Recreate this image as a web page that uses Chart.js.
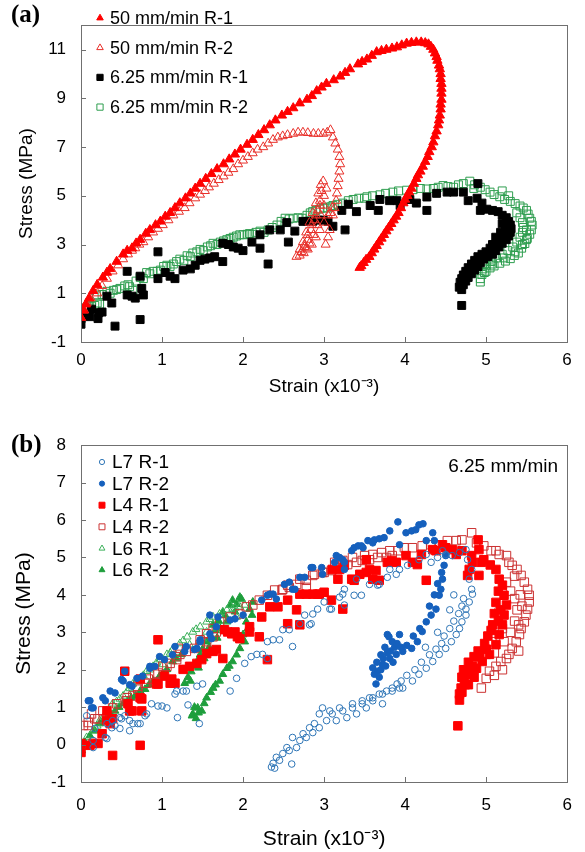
<!DOCTYPE html>
<html>
<head>
<meta charset="utf-8">
<script src="https://cdn.jsdelivr.net/npm/chart.js@4.4.1/dist/chart.umd.min.js"></script>
<style>
  html, body { margin: 0; padding: 0; background: #fff; }
  .panel { position: absolute; left: 0; width: 585px; }
  #wrapA { top: 0; height: 420px; }
  #wrapB { top: 420px; height: 432px; }
</style>
</head>
<body>
<div class="panel" id="wrapA"><canvas id="chartA"></canvas></div>
<div class="panel" id="wrapB"><canvas id="chartB"></canvas></div>
<script>
// ---- tick labels ----
const xTicks = [0, 1, 2, 3, 4, 5, 6];
const aYTicks = [-1, 1, 3, 5, 7, 9, 11];
const bYTicks = [-1, 0, 1, 2, 3, 4, 5, 6, 7, 8];

// ---- panel (a): strain (x10^-3), stress (MPa) ----
const a50R1 = [
  [0, 0], [0.03, 0.3], [0.06, 0.55], [0.1, 0.8], [0.15, 1.1], [0.2, 1.35], [0.27, 1.65], [0.32, 1.85],
  [0.36, 2.0], [0.44, 2.3], [0.52, 2.6], [0.57, 2.75], [0.63, 2.85], [0.68, 3.05], [0.73, 3.2], [0.8, 3.45],
  [0.85, 3.6], [0.92, 3.8], [0.98, 3.95], [1.04, 4.15], [1.1, 4.3], [1.16, 4.5], [1.22, 4.7], [1.29, 4.9],
  [1.35, 5.1], [1.41, 5.3], [1.47, 5.5], [1.54, 5.7], [1.61, 5.9], [1.68, 6.1], [1.76, 6.3], [1.83, 6.5],
  [1.9, 6.7], [1.97, 6.9], [2.05, 7.1], [2.12, 7.3], [2.19, 7.5], [2.26, 7.7], [2.33, 7.9], [2.4, 8.1],
  [2.48, 8.3], [2.55, 8.45], [2.62, 8.6], [2.7, 8.8], [2.79, 8.95], [2.85, 9.1], [2.91, 9.3], [2.97, 9.45],
  [3.03, 9.6], [3.12, 9.75], [3.2, 9.9], [3.26, 10.05], [3.32, 10.2], [3.42, 10.4], [3.47, 10.5], [3.53, 10.6],
  [3.59, 10.75], [3.65, 10.9], [3.71, 10.95], [3.77, 11.0], [3.84, 11.05], [3.9, 11.1], [3.96, 11.18],
  [4.02, 11.25], [4.08, 11.28], [4.14, 11.3], [4.2, 11.3], [4.25, 11.27],
  [4.29, 11.22], [4.32, 11.12], [4.35, 11.0], [4.37, 10.85], [4.39, 10.7], [4.4, 10.55], [4.42, 10.35],
  [4.43, 10.2], [4.44, 10.0], [4.44, 9.8], [4.45, 9.6], [4.45, 9.4], [4.45, 9.2], [4.45, 8.95], [4.44, 8.75],
  [4.44, 8.55], [4.43, 8.3], [4.42, 8.1], [4.41, 7.9], [4.39, 7.65], [4.37, 7.45], [4.35, 7.2], [4.33, 7.0],
  [4.3, 6.8], [4.28, 6.6], [4.25, 6.4], [4.22, 6.2], [4.19, 6.0], [4.16, 5.85], [4.14, 5.7], [4.11, 5.5],
  [4.08, 5.3], [4.05, 5.15], [4.03, 5.0], [4.0, 4.85], [3.98, 4.7], [3.95, 4.5], [3.92, 4.3], [3.89, 4.15],
  [3.86, 4.0], [3.83, 3.85], [3.8, 3.7], [3.77, 3.55], [3.74, 3.4], [3.71, 3.25], [3.68, 3.1], [3.65, 2.95],
  [3.62, 2.8], [3.59, 2.65], [3.56, 2.5], [3.52, 2.38], [3.49, 2.25], [3.46, 2.12], [3.44, 2.05]
];
const a50R2 = [
  [0, 0], [0.04, 0.3], [0.07, 0.6], [0.12, 0.8], [0.2, 1.0], [0.26, 1.3], [0.32, 1.6], [0.39, 1.9],
  [0.46, 2.15], [0.52, 2.4], [0.58, 2.6], [0.63, 2.75], [0.67, 2.85], [0.72, 3.0], [0.77, 3.1], [0.83, 3.3],
  [0.89, 3.5], [0.95, 3.65], [1.01, 3.8], [1.08, 4.0], [1.14, 4.2], [1.21, 4.35], [1.28, 4.5], [1.34, 4.7],
  [1.41, 4.9], [1.47, 5.05], [1.53, 5.2], [1.58, 5.35], [1.64, 5.5], [1.7, 5.65], [1.76, 5.8], [1.82, 5.95],
  [1.88, 6.1], [1.94, 6.3], [2.0, 6.45], [2.06, 6.6], [2.12, 6.75], [2.18, 6.9], [2.25, 7.0], [2.31, 7.15],
  [2.37, 7.3], [2.43, 7.4], [2.49, 7.45], [2.55, 7.5], [2.62, 7.55], [2.68, 7.6], [2.74, 7.6], [2.8, 7.58],
  [2.87, 7.55], [2.93, 7.55], [2.99, 7.55], [3.04, 7.6], [3.08, 7.7], [3.11, 7.4], [3.14, 7.15], [3.17, 6.9],
  [3.19, 6.6], [3.2, 6.3], [3.19, 6.0], [3.18, 5.7], [3.17, 5.4], [3.16, 5.1], [3.15, 4.8], [3.13, 4.5],
  [3.1, 4.5], [3.11, 4.2], [3.08, 4.3], [3.05, 4.2], [3.0, 3.9], [2.95, 3.6], [2.9, 3.3], [2.85, 3.0],
  [2.8, 2.8], [2.75, 2.65], [2.7, 2.55], [2.66, 2.5], [2.7, 2.8], [2.74, 3.1], [2.78, 3.5], [2.82, 3.9],
  [2.86, 4.3], [2.9, 4.7], [2.93, 5.1], [2.96, 5.45], [2.99, 5.6], [2.97, 5.2], [2.95, 4.8], [2.92, 4.4],
  [2.88, 4.0], [2.84, 3.6], [2.8, 3.2], [2.76, 2.9], [2.72, 2.7], [2.76, 3.0], [2.8, 3.4], [2.85, 3.8],
  [2.9, 4.2], [2.95, 4.6], [3.0, 5.0], [3.03, 5.3], [3.0, 4.6], [2.96, 4.2], [2.92, 3.8], [2.87, 3.4],
  [2.82, 3.05], [2.78, 2.85], [3.07, 3.6], [3.05, 3.3], [3.02, 3.0]
];
const a625R1 = [
  [0, -0.27], [0, -0.04], [0.05, 0.1], [0.11, 0.04], [0.13, 0.35], [0.21, -0.04], [0.22, 0.2], [0.26, 0.23],
  [0.32, 0.88], [0.38, 0.6], [0.42, -0.35], [0.57, 1.9], [0.57, 0.93], [0.63, 0.88], [0.67, 0.8], [0.73, 1.7],
  [0.75, 1.2], [0.77, 0.93], [0.73, -0.08], [0.95, 2.7], [0.95, 1.6], [1.04, 1.85], [1.1, 1.7], [1.16, 1.6],
  [1.26, 1.95], [1.35, 2.0], [1.41, 2.15], [1.47, 2.35], [1.53, 2.4], [1.59, 2.45], [1.65, 2.5], [1.75, 2.3],
  [1.75, 3.05], [1.82, 3.0], [1.88, 2.9], [1.94, 2.85], [2.0, 2.75], [2.11, 3.1], [2.21, 2.85], [2.21, 3.4],
  [2.31, 2.2], [2.33, 3.6], [2.46, 3.6], [2.54, 3.9], [2.56, 3.1], [2.64, 3.55], [2.74, 3.95], [2.8, 3.95],
  [2.86, 3.95], [2.93, 4.0], [2.99, 4.0], [3.05, 3.95], [3.11, 3.75], [3.26, 3.6], [3.22, 4.4], [3.3, 4.65],
  [3.4, 4.35], [3.57, 4.6], [3.67, 4.4], [3.69, 4.85], [3.81, 4.8], [3.9, 4.8], [3.94, 4.6], [4.06, 4.85],
  [4.14, 4.7], [4.27, 4.4], [4.27, 4.95], [4.39, 5.1], [4.52, 5.15], [4.6, 5.15], [4.72, 5.15], [4.78, 4.8],
  [4.9, 5.5], [4.89, 4.9], [4.95, 4.7], [4.93, 4.4], [5.01, 4.45], [5.08, 4.4], [5.15, 4.35], [5.2, 4.2],
  [5.25, 4.1], [5.28, 3.95], [5.3, 3.8], [5.2, 3.85], [5.31, 3.65], [5.24, 3.6], [5.3, 3.5], [5.18, 3.5],
  [5.28, 3.35], [5.22, 3.3], [5.12, 3.3], [5.25, 3.2], [5.15, 3.15], [5.2, 3.05], [5.08, 3.0], [5.16, 2.9],
  [5.05, 2.85], [5.12, 2.75], [5.0, 2.7], [5.08, 2.6], [4.95, 2.6], [5.02, 2.5], [4.9, 2.5], [4.97, 2.4],
  [4.86, 2.35], [4.93, 2.25], [4.82, 2.2], [4.9, 2.1], [4.78, 2.05], [4.86, 1.95], [4.75, 1.9], [4.82, 1.8],
  [4.72, 1.75], [4.78, 1.65], [4.7, 1.6], [4.75, 1.5], [4.68, 1.45], [4.72, 1.35], [4.67, 1.25], [4.7, 1.15],
  [4.7, 0.5]
];
const a625R2 = [
  [0, -0.04], [0.02, 0.15], [0.03, 0.3], [0.06, 0.4], [0.09, 0.5], [0.13, 0.45], [0.17, 0.5], [0.2, 0.6],
  [0.23, 0.55], [0.19, 0.93], [0.26, 0.95], [0.32, 1.08], [0.36, 1.0], [0.4, 1.12], [0.44, 1.15], [0.48, 1.2],
  [0.54, 1.3], [0.58, 1.35], [0.6, 1.27], [0.64, 1.12], [0.68, 1.5], [0.73, 1.65], [0.77, 1.6], [0.81, 1.85],
  [0.85, 1.8], [0.89, 1.9], [0.94, 1.9], [0.98, 1.95], [1.02, 2.1], [1.06, 2.15], [1.1, 2.1], [1.14, 2.2],
  [1.18, 2.3], [1.22, 2.4], [1.27, 2.35], [1.31, 2.54], [1.35, 2.5], [1.38, 2.65], [1.43, 2.7], [1.47, 2.8],
  [1.51, 2.75], [1.56, 2.9], [1.6, 2.95], [1.63, 3.05], [1.68, 3.0], [1.72, 3.1], [1.76, 3.15], [1.8, 3.2],
  [1.84, 3.25], [1.88, 3.3], [1.92, 3.35], [1.96, 3.4], [2.0, 3.4], [2.05, 3.42], [2.08, 3.45], [2.12, 3.42],
  [2.16, 3.5], [2.21, 3.55], [2.26, 3.5], [2.31, 3.6], [2.36, 3.7], [2.42, 3.8], [2.47, 3.95], [2.52, 4.08],
  [2.57, 4.05], [2.62, 4.08], [2.68, 4.1], [2.73, 4.08], [2.79, 4.2], [2.83, 4.3], [2.86, 4.35], [2.9, 4.4],
  [2.95, 4.46], [3.0, 4.5], [3.04, 4.5], [3.08, 4.55], [3.11, 4.6], [3.17, 4.65], [3.23, 4.7], [3.3, 4.8],
  [3.36, 4.85], [3.43, 4.9], [3.5, 4.9], [3.53, 4.96], [3.6, 5.0], [3.69, 5.04], [3.76, 5.1], [3.85, 5.15],
  [3.92, 5.2], [4.02, 5.23], [4.1, 5.25], [4.19, 5.3], [4.27, 5.28], [4.35, 5.3], [4.41, 5.35], [4.47, 5.42],
  [4.53, 5.38], [4.6, 5.35], [4.66, 5.45], [4.72, 5.5], [4.8, 5.6], [4.86, 5.45], [4.93, 5.35], [4.99, 5.25],
  [5.05, 5.15], [5.1, 5.05], [5.17, 4.96], [5.23, 4.85], [5.3, 4.77], [5.36, 4.68], [5.42, 4.58], [5.46, 4.5],
  [5.5, 4.4], [5.52, 4.25], [5.54, 4.08], [5.56, 3.95], [5.57, 3.8], [5.56, 3.6], [5.54, 3.42], [5.51, 3.25],
  [5.48, 3.04], [5.44, 2.85], [5.4, 2.65], [5.35, 2.55], [5.3, 2.42], [5.24, 2.32], [5.17, 2.23], [5.1, 2.12],
  [5.05, 2.04], [5.0, 1.9], [4.95, 1.77], [4.93, 1.6], [4.93, 1.46],
  [5.38, 4.3], [5.42, 4.1], [5.45, 3.9], [5.46, 3.7], [5.45, 3.5], [5.42, 3.3], [5.38, 3.1], [5.33, 2.9],
  [5.27, 2.75], [5.2, 2.6], [5.13, 2.45], [5.06, 2.3], [5.0, 2.15], [4.96, 2.0], [5.5, 3.6], [5.5, 3.2],
  [5.45, 3.0], [5.36, 2.7], [5.22, 2.45], [5.08, 2.2], [4.98, 1.85], [5.2, 5.2], [4.85, 5.3], [5.28, 5.0]
];

// ---- panel (b) ----
const bL7R1 = [
  [0.15, -0.08], [0.15, 0.11], [0.07, 0.77], [0.17, 0.43], [0.3, 0.19], [0.32, 0.16], [0.32, 0.56], [0.38, 0.45],
  [0.39, 0.64], [0.42, 0.51], [0.48, 0.72], [0.48, 0.43], [0.5, 0.69], [0.54, 0.77], [0.6, 0.64], [0.6, 0.37],
  [0.64, 0.56], [0.7, 0.56], [0.73, 0.56], [0.79, 0.77], [0.81, 0.82], [0.87, 1.09], [0.95, 1.03], [1.0, 1.03],
  [1.06, 0.98], [1.19, 0.72], [1.16, 1.35], [1.18, 1.43], [1.26, 1.43], [1.3, 1.43], [1.32, 1.06], [1.43, 1.56],
  [1.5, 1.62], [1.46, 0.56], [1.84, 1.43], [1.92, 1.77], [2.02, 2.17], [2.1, 2.35], [2.17, 2.41], [2.24, 2.41],
  [2.3, 2.3], [2.3, 2.75], [2.37, 2.8], [2.45, 2.8], [2.49, 3.07], [2.57, 3.07], [2.61, 2.62], [2.7, 3.23],
  [2.76, 3.46], [2.82, 3.2], [2.84, 3.23], [2.86, 3.49], [2.92, 3.62], [3.0, 3.81], [3.07, 3.62], [3.09, 3.62],
  [3.19, 3.94], [3.23, 4.02], [3.25, 3.73], [3.25, 4.15], [3.37, 3.99], [3.4, 4.42], [3.46, 3.99], [3.56, 4.28],
  [3.66, 4.26], [3.68, 4.28], [3.78, 4.47], [3.81, 4.68], [3.89, 4.55], [3.93, 4.68], [4.03, 4.79], [4.17, 4.94],
  [4.26, 5.08], [4.32, 4.87], [4.4, 5.0], [4.46, 5.18], [4.5, 5.08], [4.58, 5.05], [4.67, 5.13], [4.75, 5.21],
  [4.77, 4.94], [4.82, 4.68], [4.79, 4.42], [4.82, 4.15], [4.83, 4.02], [4.79, 3.81], [4.75, 3.62], [4.75, 3.46],
  [4.7, 3.28], [4.67, 3.1], [4.63, 2.94], [4.57, 2.75], [4.5, 2.57], [4.42, 2.41], [4.34, 2.22], [4.26, 2.04],
  [4.17, 1.88], [4.09, 1.7], [3.97, 1.51], [3.93, 1.51], [3.84, 1.43], [3.84, 1.51], [3.77, 1.43], [3.72, 1.35],
  [3.68, 1.35], [3.72, 1.09], [3.6, 1.25], [3.6, 1.17], [3.56, 1.25], [3.52, 0.98], [3.47, 1.17], [3.47, 1.09],
  [3.4, 0.82], [3.35, 1.09], [3.35, 0.98], [3.28, 0.72], [3.23, 0.9], [3.19, 0.98], [3.15, 0.64], [3.1, 0.82],
  [3.07, 0.9], [3.03, 0.64], [2.98, 0.98], [2.94, 0.82], [2.94, 0.45], [2.88, 0.56], [2.86, 0.32], [2.82, 0.45],
  [2.78, 0.19], [2.74, 0.29], [2.7, 0.11], [2.66, -0.08], [2.61, 0.19], [2.57, -0.16], [2.54, -0.08], [2.49, -0.24],
  [2.45, -0.42], [2.41, -0.34], [2.37, -0.5], [2.39, -0.63], [2.35, -0.6], [2.6, -0.52],
  [4.72, 3.9], [4.7, 3.7], [4.66, 3.5], [4.6, 3.3], [4.55, 3.1], [4.48, 2.9], [4.45, 2.7], [4.38, 2.55],
  [4.3, 2.4], [4.2, 2.2], [4.12, 2.0], [4.02, 1.85], [3.95, 1.7], [3.9, 1.62], [4.6, 4.0], [4.55, 3.6],
  [4.4, 3.0], [4.25, 2.6]
];
const bL7R2 = [
  [0.09, 1.17], [0.11, 1.17], [0.13, 0.98], [0.15, 0.98], [0.27, 1.25], [0.3, 1.17], [0.36, 1.43], [0.42, 1.38],
  [0.5, 1.74], [0.52, 1.7], [0.54, 1.96], [0.6, 1.6], [0.63, 1.56], [0.69, 1.77], [0.76, 1.83], [0.85, 2.04],
  [0.85, 2.09], [0.91, 2.09], [0.97, 2.35], [1.03, 2.27], [1.13, 2.4], [1.16, 2.62], [1.28, 2.49], [1.3, 2.62],
  [1.4, 2.54], [1.43, 2.57], [1.47, 2.75], [1.47, 2.8], [1.59, 2.96], [1.59, 3.46], [1.61, 2.83], [1.67, 3.15],
  [1.69, 3.41], [1.84, 3.33], [1.9, 3.36], [2.0, 3.46], [2.23, 3.86], [2.3, 3.99], [2.33, 4.02], [2.37, 4.02],
  [2.41, 3.89], [2.51, 4.28], [2.57, 4.34], [2.61, 4.15], [2.64, 4.15], [2.7, 4.47], [2.76, 4.47], [2.84, 4.73],
  [2.86, 4.73], [2.97, 4.73], [2.98, 4.55], [3.13, 4.87], [3.15, 5.05], [3.19, 5.0], [3.23, 4.94], [3.25, 4.87],
  [3.25, 4.68], [3.34, 5.18], [3.37, 5.26], [3.42, 5.31], [3.46, 5.31], [3.48, 5.26], [3.54, 5.45], [3.6, 5.39],
  [3.62, 5.47], [3.68, 5.5], [3.74, 5.53], [3.81, 5.71], [3.91, 5.95], [3.93, 5.34], [4.01, 5.66], [4.08, 5.71],
  [4.13, 5.74], [4.17, 5.87], [4.22, 5.9], [4.26, 5.45], [4.34, 5.66], [4.36, 5.45], [4.5, 5.05], [4.48, 4.79],
  [4.46, 4.42], [4.44, 4.15], [4.42, 3.99], [4.38, 3.62], [4.32, 3.46], [4.26, 3.28], [4.21, 3.02], [4.15, 2.75],
  [4.08, 2.57], [3.97, 2.49], [3.93, 2.94], [3.89, 2.41], [3.84, 2.75], [3.81, 2.3], [3.78, 2.94], [3.8, 2.88],
  [3.72, 2.14], [3.66, 1.96], [3.62, 1.88], [3.64, 1.62], [3.65, 2.2], [3.7, 2.4], [3.75, 2.6], [3.7, 2.0],
  [3.76, 2.1], [3.82, 2.5], [3.87, 2.6], [3.9, 2.7], [3.68, 1.8], [3.73, 2.3], [3.78, 2.45], [3.6, 2.05],
  [3.85, 2.2], [3.95, 2.6], [4.02, 2.65], [4.1, 2.9], [4.18, 3.1], [4.3, 3.7], [4.36, 4.0], [4.4, 4.3], [4.45, 4.6]
];
const bL4R1 = [
  [0, 0.03], [0, -0.21], [0.11, -0.02], [0.15, 0.03], [0.21, 0.03], [0.26, 0.29], [0.32, 0.9], [0.32, 0.64],
  [0.36, 0.56], [0.39, -0.29], [0.39, 0.69], [0.54, 1.96], [0.58, 1.09], [0.6, 0.9], [0.63, 0.9], [0.73, -0.02],
  [0.73, 1.25], [0.73, 1.75], [0.75, 0.9], [0.75, 1.22], [0.93, 1.62], [0.95, 2.8], [0.95, 1.62], [1.03, 1.83],
  [1.1, 1.64], [1.12, 1.75], [1.16, 1.64], [1.26, 2.01], [1.34, 2.09], [1.43, 2.17], [1.49, 2.27], [1.55, 2.43],
  [1.63, 2.49], [1.67, 2.54], [1.75, 2.3], [1.77, 3.07], [1.81, 3.01], [1.86, 2.96], [1.9, 3.01], [1.93, 2.88],
  [1.96, 2.83], [2.08, 3.01], [2.08, 3.15], [2.2, 2.88], [2.23, 3.41], [2.3, 2.27], [2.33, 3.68], [2.43, 3.68],
  [2.55, 3.86], [2.55, 3.23], [2.66, 3.6], [2.7, 3.2], [2.7, 4.02], [2.78, 4.02], [2.86, 4.02], [2.92, 4.02],
  [2.94, 4.02], [3.0, 4.07], [3.09, 3.86], [3.1, 4.68], [3.17, 4.42], [3.19, 4.68], [3.23, 3.62], [3.25, 4.79],
  [3.34, 4.42], [3.37, 4.39], [3.44, 4.55], [3.52, 4.6], [3.52, 4.94], [3.56, 4.68], [3.6, 4.42], [3.64, 4.65],
  [3.68, 4.39], [3.78, 4.87], [3.83, 4.92], [3.89, 4.87], [4.01, 5.05], [4.09, 4.87], [4.15, 4.81], [4.2, 5.08],
  [4.26, 4.39], [4.34, 5.21], [4.38, 5.18], [4.46, 5.34], [4.5, 5.26], [4.58, 5.21], [4.63, 5.08], [4.7, 5.18],
  [4.82, 5.05], [4.9, 5.47], [4.91, 5.21], [4.83, 4.87], [4.79, 4.68], [4.77, 4.52], [4.91, 4.52], [4.94, 4.87],
  [4.97, 4.94], [5.05, 4.8], [5.12, 4.68], [5.16, 4.42], [5.2, 4.26], [5.22, 3.99], [5.25, 3.73], [5.22, 3.46],
  [5.2, 3.2], [5.16, 2.94], [5.12, 2.67], [5.04, 2.41], [4.95, 2.22], [4.88, 2.04], [4.79, 1.88], [4.73, 1.7],
  [4.69, 1.51], [4.67, 1.35], [4.67, 1.19], [4.65, 0.5], [5.15, 4.1], [5.12, 3.8], [5.1, 3.5], [5.08, 3.2],
  [5.02, 2.9], [4.98, 2.7], [4.9, 2.5], [4.85, 2.35], [4.78, 2.2], [4.72, 2.0], [4.7, 1.8], [5.18, 3.6],
  [5.15, 3.3], [5.06, 3.05], [5.0, 2.55], [4.92, 2.35], [4.83, 2.1], [4.76, 1.95], [4.74, 1.6], [4.7, 1.4],
  [4.78, 1.6], [4.85, 1.8]
];
const bL4R2 = [
  [0.03, 0.51], [0.09, 0.51], [0.09, 0.59], [0.13, 0.82], [0.17, 0.69], [0.21, 0.69], [0.27, 0.9], [0.39, 0.98],
  [0.44, 1.09], [0.56, 1.17], [0.57, 1.25], [0.64, 1.3], [0.7, 1.48], [0.7, 1.56], [0.79, 1.64], [0.81, 1.64],
  [0.83, 1.75], [0.91, 1.88], [0.95, 1.91], [1.01, 2.09], [1.06, 2.09], [1.1, 2.17], [1.18, 2.27], [1.18, 2.35],
  [1.2, 2.57], [1.22, 2.41], [1.3, 2.49], [1.4, 2.57], [1.47, 2.67], [1.47, 2.8], [1.55, 2.75], [1.55, 2.96],
  [1.63, 2.88], [1.63, 3.1], [1.67, 3.01], [1.71, 3.28], [1.84, 3.41], [1.96, 3.49], [2.04, 3.68], [2.12, 3.73],
  [2.2, 3.86], [2.3, 3.99], [2.39, 4.13], [2.48, 4.13], [2.49, 4.15], [2.55, 4.26], [2.57, 4.2], [2.66, 4.28],
  [2.7, 4.42], [2.78, 4.39], [2.78, 4.2], [2.86, 4.52], [2.88, 4.55], [2.98, 4.6], [3.0, 4.6], [3.09, 4.65],
  [3.13, 4.87], [3.19, 4.73], [3.23, 4.92], [3.29, 4.81], [3.35, 5.0], [3.4, 4.87], [3.47, 4.92], [3.5, 5.05],
  [3.56, 4.94], [3.6, 5.08], [3.66, 5.0], [3.71, 5.13], [3.77, 5.0], [3.81, 5.18], [3.84, 5.05], [3.91, 5.18],
  [3.99, 5.26], [4.09, 5.26], [4.21, 5.31], [4.32, 5.34], [4.42, 5.34], [4.52, 5.45], [4.63, 5.45], [4.7, 5.47],
  [4.82, 5.66], [4.88, 5.39], [4.97, 5.31], [5.06, 5.18], [5.12, 5.18], [5.16, 5.08], [5.25, 5.05], [5.28, 4.87],
  [5.32, 4.79], [5.38, 4.68], [5.43, 4.52], [5.47, 4.34], [5.51, 4.15], [5.53, 3.99], [5.53, 3.81], [5.51, 3.62],
  [5.49, 3.46], [5.47, 3.28], [5.43, 3.1], [5.41, 2.94], [5.37, 2.75], [5.32, 2.57], [5.28, 2.41], [5.25, 2.3],
  [5.18, 2.22], [5.12, 2.09], [5.04, 1.96], [5.0, 1.77], [4.94, 1.51], [5.25, 4.34], [5.3, 4.1], [5.35, 3.9],
  [5.38, 3.6], [5.35, 3.3], [5.3, 3.0], [5.22, 2.75], [5.16, 3.54], [5.2, 3.1], [5.1, 2.45], [5.07, 2.75],
  [5.0, 2.41], [5.42, 4.0], [5.44, 3.7], [5.4, 3.2], [5.2, 2.0], [5.1, 1.85], [5.35, 4.5], [5.4, 2.5]
];
const bL6R1 = [
  [0.01, -0.08], [0.07, 0.19], [0.15, 0.37], [0.2, 0.5], [0.23, 0.64], [0.28, 0.75], [0.32, 0.9], [0.39, 1.09],
  [0.44, 1.15], [0.48, 1.22], [0.52, 1.3], [0.57, 1.43], [0.6, 1.5], [0.64, 1.62], [0.68, 1.68], [0.73, 1.75],
  [0.77, 1.85], [0.81, 1.96], [0.85, 2.0], [0.89, 2.09], [0.93, 2.18], [0.97, 2.27], [1.01, 2.14], [1.06, 2.41],
  [1.1, 2.45], [1.13, 2.54], [1.18, 2.3], [1.22, 2.7], [1.26, 2.78], [1.31, 2.88], [1.34, 2.67], [1.38, 3.01],
  [1.42, 3.08], [1.47, 3.15], [1.47, 2.75], [1.5, 2.83], [1.55, 3.28], [1.55, 3.01], [1.59, 3.35], [1.63, 3.41],
  [1.63, 3.2], [1.67, 3.1], [1.71, 3.49], [1.75, 3.54], [1.8, 3.6], [1.8, 3.28], [1.84, 3.73], [1.87, 3.62],
  [1.9, 3.65], [1.92, 3.41], [1.96, 3.68], [2.02, 3.73]
];
const bL6R2 = [
  [0.01, -0.16], [0.05, 0.06], [0.11, 0.24], [0.17, 0.37], [0.23, 0.56], [0.27, 0.64], [0.32, 0.72], [0.37, 0.8],
  [0.42, 0.9], [0.47, 1.0], [0.52, 1.09], [0.58, 1.17], [0.62, 1.25], [0.67, 1.3], [0.73, 1.43], [0.79, 1.48],
  [0.84, 1.6], [0.89, 1.7], [0.97, 1.83], [1.01, 1.9], [1.06, 2.01], [1.13, 2.22], [1.18, 2.3], [1.24, 2.41],
  [1.28, 1.64], [1.32, 1.8], [1.35, 1.7], [1.36, 1.95], [1.4, 2.1], [1.44, 2.25], [1.45, 2.05], [1.47, 2.4],
  [1.5, 2.55], [1.52, 2.3], [1.47, 2.75], [1.55, 2.75], [1.58, 2.6], [1.6, 2.9], [1.63, 3.2], [1.66, 3.05],
  [1.68, 2.85], [1.7, 3.3], [1.72, 3.1], [1.75, 3.54], [1.78, 3.45], [1.8, 3.3], [1.84, 3.73], [1.87, 3.86],
  [1.9, 3.55], [1.92, 3.75], [1.96, 3.94], [1.98, 3.89], [2.11, 3.46], [2.08, 3.62], [2.12, 3.81], [2.04, 3.28],
  [2.06, 3.1], [2.0, 2.94], [2.02, 2.75], [1.96, 2.57], [1.92, 2.4], [1.87, 2.22], [1.83, 2.1], [1.8, 2.04],
  [1.75, 1.88], [1.71, 1.7], [1.66, 1.6], [1.63, 1.51], [1.6, 1.4], [1.55, 1.25], [1.52, 1.1], [1.49, 0.9],
  [1.45, 0.85], [1.44, 0.98], [1.38, 0.82], [1.37, 0.77], [1.4, 1.0], [1.42, 0.7]
];

const sans = "'Liberation Sans', Arial, sans-serif";

const toXY = pts => pts.map(p => ({ x: p[0], y: p[1] }));

function series(label, pts, style, radius, fill, stroke) {
  return {
    label: label,
    data: toXY(pts),
    pointStyle: style,
    pointRadius: radius,
    pointBackgroundColor: fill,
    pointBorderColor: stroke,
    pointBorderWidth: 1,
    backgroundColor: fill,
    borderColor: stroke,
    showLine: false
  };
}

// border round the plot and short ticks pointing inward
const framePlugin = {
  id: 'frame',
  afterDraw(chart) {
    const { ctx, chartArea: a, scales } = chart;
    ctx.save();
    ctx.strokeStyle = '#707070';
    ctx.lineWidth = 1;
    ctx.strokeRect(Math.round(a.left) + 0.5, Math.round(a.top) + 0.5,
      Math.round(a.right - a.left), Math.round(a.bottom - a.top));
    ctx.beginPath();
    scales.x.ticks.forEach(t => {
      const px = Math.round(scales.x.getPixelForValue(t.value)) + 0.5;
      ctx.moveTo(px, a.bottom); ctx.lineTo(px, a.bottom - 5);
    });
    scales.y.ticks.forEach(t => {
      const py = Math.round(scales.y.getPixelForValue(t.value)) + 0.5;
      ctx.moveTo(a.left, py); ctx.lineTo(a.left + 5, py);
    });
    ctx.stroke();
    ctx.restore();
  }
};

// legend drawn inside the plot + panel letter + note
const notesPlugin = {
  id: 'notes',
  afterDraw(chart, args, opts) {
    const ctx = chart.ctx;
    ctx.save();
    ctx.textBaseline = 'middle';
    ctx.font = opts.legendFont;
    chart.data.datasets.forEach((ds, i) => {
      const y = opts.legendY + i * opts.legendGap;
      ctx.fillStyle = ds.backgroundColor;
      ctx.strokeStyle = ds.borderColor;
      ctx.lineWidth = 1;
      Chart.helpers.drawPoint(ctx, { pointStyle: ds.pointStyle, radius: opts.markerR[i], borderWidth: 1 }, opts.legendX, y);
      ctx.fillStyle = '#000';
      ctx.textAlign = 'left';
      ctx.fillText(ds.label, opts.legendX + 10, y + 1);
    });
    ctx.font = "bold 25px 'Liberation Serif', 'Times New Roman', serif";
    ctx.fillStyle = '#000';
    ctx.textAlign = 'left';
    ctx.fillText(opts.letter, 11, opts.letterY);
    if (opts.note) {
      ctx.font = '19px ' + sans;
      ctx.textAlign = 'right';
      ctx.fillText(opts.note, 558, opts.noteY);
    }
    ctx.restore();
  }
};

function axes(yMin, yMax, yTicks, yTitleSize, yTitlePad, xTitleSize, xTitlePad, xTickPad, xHeight) {
  return {
    x: {
      type: 'linear', min: 0, max: 6,
      afterBuildTicks: s => { s.ticks = xTicks.map(v => ({ value: v })); },
      afterFit: s => { s.height = xHeight; },
      grid: { display: false, drawTicks: false },
      border: { display: false },
      ticks: { color: '#000', font: { family: sans, size: 17 }, padding: xTickPad, maxRotation: 0 },
      title: { display: true, text: 'Strain (x10\u207B\u00B3)', color: '#000',
        font: { family: sans, size: xTitleSize }, padding: { top: xTitlePad, bottom: xTitlePad } }
    },
    y: {
      type: 'linear', min: yMin, max: yMax,
      afterBuildTicks: s => { s.ticks = yTicks.map(v => ({ value: v })); },
      afterFit: s => { s.width = 81; },
      grid: { display: false, drawTicks: false },
      border: { display: false },
      ticks: { color: '#000', font: { family: sans, size: 17 }, padding: 15 },
      title: { display: true, text: 'Stress (MPa)', color: '#000',
        font: { family: sans, size: yTitleSize }, padding: { top: yTitlePad, bottom: yTitlePad } }
    }
  };
}

const baseOptions = {
  responsive: true,
  maintainAspectRatio: false,
  animation: false,
  events: [],
  plugins: { legend: { display: false }, tooltip: { enabled: false } }
};

new Chart(document.getElementById('chartA'), {
  type: 'scatter',
  data: {
    datasets: [
      series('50 mm/min R-1', a50R1, 'triangle', 5.4, '#ff0000', '#ff0000'),
      series('50 mm/min R-2', a50R2, 'triangle', 5.2, 'rgba(0,0,0,0)', '#e8302a'),
      series('6.25 mm/min R-1', a625R1, 'rect', 5.6, '#000000', '#000000'),
      series('6.25 mm/min R-2', a625R2, 'rect', 5.6, 'rgba(0,0,0,0)', '#2e9e4f')
    ]
  },
  options: Object.assign({}, baseOptions, {
    layout: { padding: { top: 4, right: 18, bottom: 0, left: 0 } },
    scales: axes(-1, 12, aYTicks, 19, 15, 19, 21.5, 8, 78),
    plugins: Object.assign({}, baseOptions.plugins, {
      notes: { legendX: 100, legendY: 18, legendGap: 29.7, legendFont: '18px ' + sans,
        markerR: [3.8, 3.8, 4.4, 4.4], letter: '(a)', letterY: 16 }
    })
  }),
  plugins: [framePlugin, notesPlugin]
});

new Chart(document.getElementById('chartB'), {
  type: 'scatter',
  data: {
    datasets: [
      series('L7 R-1', bL7R1, 'circle', 3.3, 'rgba(0,0,0,0)', '#2e75b6'),
      series('L7 R-2', bL7R2, 'circle', 3.3, '#1560bd', '#1560bd'),
      series('L4 R-1', bL4R1, 'rect', 6, '#ff0000', '#ff0000'),
      series('L4 R-2', bL4R2, 'rect', 6, 'rgba(0,0,0,0)', '#cc3333'),
      series('L6 R-1', bL6R1, 'triangle', 4.5, 'rgba(0,0,0,0)', '#3cb05a'),
      series('L6 R-2', bL6R2, 'triangle', 4.5, '#1e9e3c', '#1e9e3c')
    ]
  },
  options: Object.assign({}, baseOptions, {
    layout: { padding: { top: 21.5, right: 17, bottom: 0, left: 0 } },
    scales: axes(-1, 8, bYTicks, 21, 11.4, 21, 0.5, 13, 70),
    plugins: Object.assign({}, baseOptions.plugins, {
      notes: { legendX: 102, legendY: 42, legendGap: 21.6, legendFont: '19px ' + sans,
        markerR: [2.6, 2.6, 4.2, 4.2, 3.4, 3.4], letter: '(b)', letterY: 26,
        note: '6.25 mm/min', noteY: 47 }
    })
  }),
  plugins: [framePlugin, notesPlugin]
});
</script>
</body>
</html>
